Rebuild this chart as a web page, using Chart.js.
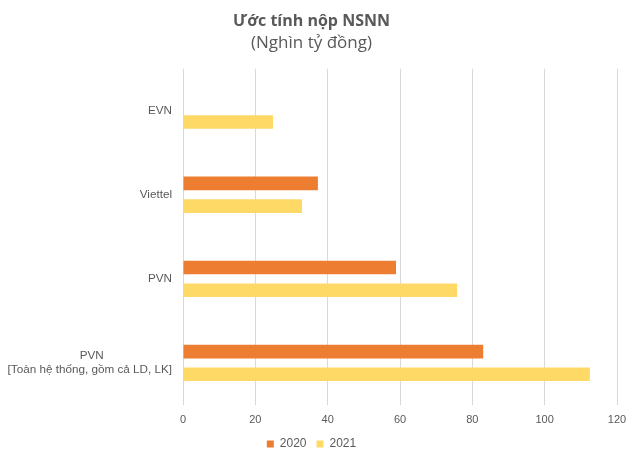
<!DOCTYPE html>
<html>
<head>
<meta charset="utf-8">
<script src="https://cdn.jsdelivr.net/npm/chart.js@4"></script>
<style>
  html, body { margin: 0; padding: 0; background: #fff; }
  #wrap { width: 640px; height: 463px; }
</style>
</head>
<body>
<div id="wrap"><canvas id="chart"></canvas></div>
<script>
// trailing spaces on "PVN" keep the two lines centred on each other, as in the original
const categories = ["EVN", "Viettel", "PVN", ["PVN" + " ".repeat(21), "[Toàn hệ thống, gồm cả LD, LK]"]];
const values2020 = [null, 37.3, 58.9, 83];
const values2021 = [24.9, 32.9, 75.8, 112.5];
const xTicks = [0, 20, 40, 60, 80, 100, 120];

const textColor = "#595959";
const gridColor = "#d9d9d9";

new Chart(document.getElementById("chart").getContext("2d"), {
  type: "bar",
  data: {
    labels: categories,
    datasets: [
      {
        label: "2020",
        data: values2020,
        backgroundColor: "#ED7D31",
        categoryPercentage: 0.54,
        barPercentage: 0.6,
      },
      {
        label: "2021",
        data: values2021,
        backgroundColor: "#FFD966",
        categoryPercentage: 0.54,
        barPercentage: 0.6,
      },
    ],
  },
  options: {
    indexAxis: "y",
    responsive: true,
    maintainAspectRatio: false,
    animation: false,
    layout: { padding: { left: 6, right: 23, top: 8, bottom: 3 } },
    plugins: {
      title: {
        display: true,
        text: "Ước tính nộp NSNN",
        color: textColor,
        font: { family: "Open Sans", size: 16, weight: "bold" },
        padding: { top: 4, bottom: 2 },
      },
      subtitle: {
        display: true,
        text: "(Nghìn tỷ đồng)",
        color: textColor,
        font: { family: "Open Sans", size: 17 },
        padding: { top: 0, bottom: 15 },
      },
      legend: {
        position: "bottom",
        labels: {
          color: textColor,
          boxWidth: 7,
          boxHeight: 7,
          padding: 10,
          font: { family: "Liberation Sans", size: 12 },
        },
      },
      tooltip: { enabled: false },
    },
    scales: {
      x: {
        min: 0,
        max: 120,
        afterBuildTicks: (axis) => {
          axis.ticks = xTicks.map((v) => ({ value: v }));
        },
        afterFit: (axis) => {
          axis.height = 23;
        },
        grid: { color: gridColor, drawTicks: false },
        border: { display: false },
        ticks: {
          color: textColor,
          padding: 8,
          font: { family: "Liberation Sans", size: 11 },
        },
      },
      y: {
        afterFit: (axis) => {
          axis.width = 177;
        },
        grid: { display: false, drawTicks: false },
        border: { display: false },
        ticks: {
          color: textColor,
          padding: 11,
          font: { family: "Liberation Sans", size: 11.7 },
        },
      },
    },
  },
});
</script>
</body>
</html>
